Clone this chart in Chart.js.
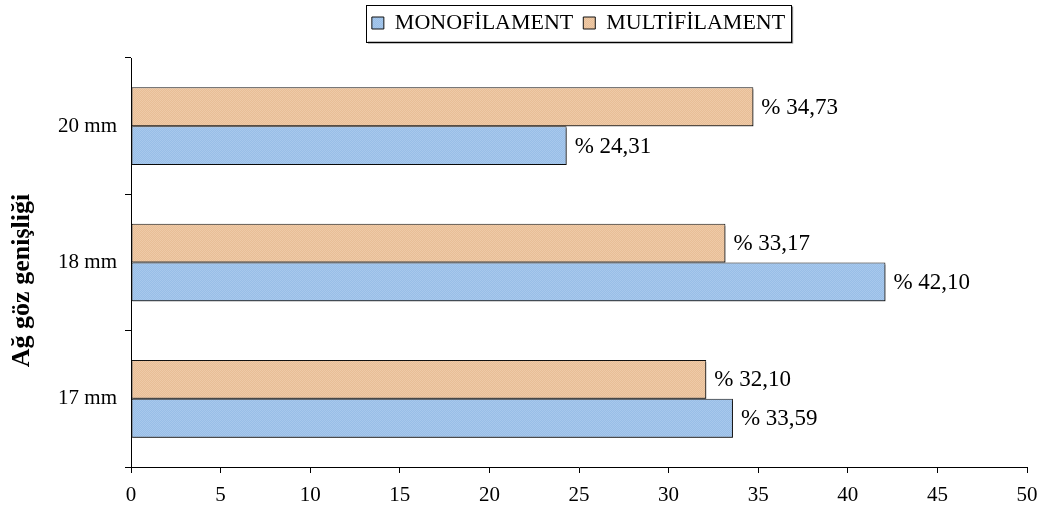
<!DOCTYPE html>
<html>
<head>
<meta charset="utf-8">
<script src="https://cdn.jsdelivr.net/npm/chart.js@4/dist/chart.umd.min.js"></script>
<style>
  html, body { margin: 0; padding: 0; background: #fff; }
  #wrap { width: 1050px; height: 514px; }
</style>
</head>
<body>
<div id="wrap"><canvas id="grafik"></canvas></div>
<script>
const kategoriler = ['20 mm', '18 mm', '17 mm'];
const monofilament = [24.31, 42.10, 33.59];
const multifilament = [34.73, 33.17, 32.10];
const eksenMin = 0;
const eksenMax = 50;
const eksenAdim = 5;

const FONT = "'Liberation Serif', 'Times New Roman', serif";

// little checkered tile, gives the bars their dotted fill
function desen(a, b) {
    const c = document.createElement('canvas');
    c.width = 4; c.height = 4;
    const g = c.getContext('2d');
    g.fillStyle = a; g.fillRect(0, 0, 4, 4);
    g.fillStyle = b;
    g.fillRect(0, 0, 1, 1); g.fillRect(2, 0, 1, 1);
    g.fillRect(1, 1, 1, 1); g.fillRect(3, 1, 1, 1);
    g.fillRect(0, 2, 1, 1); g.fillRect(2, 2, 1, 1);
    g.fillRect(1, 3, 1, 1); g.fillRect(3, 3, 1, 1);
    return g.createPattern(c, 'repeat');
}

const maviDesen = desen('rgb(152,190,231)', 'rgb(168,200,236)');
const tenDesen = desen('rgb(232,190,150)', 'rgb(238,202,168)');

const cerceveLegend = {
    id: 'cerceveLegend',
    beforeInit(chart) {
        const legend = chart.legend;
        if (!legend) return;
        const fit = legend.fit;
        legend.fit = function () { fit.call(this); this.height = 58; };
    },
    afterLayout(chart) {
        const l = chart.legend;
        l.left += 65; l.right += 65; l.top += 2; l.bottom += 2;
    },
    afterDraw(chart) {
        const l = chart.legend;
        const ctx = chart.ctx;
        const pad = l.options.labels.padding;
        const lw = l.lineWidths[0];
        const x0 = (l.left + pad + l.right - lw) / 2 - 6;
        const x1 = x0 + lw - pad + 12;
        const cy = l.top + pad + 11;
        const y0 = cy - 18.5, y1 = cy + 18.5;
        ctx.save();
        ctx.strokeStyle = '#808080';
        ctx.lineWidth = 2;
        ctx.beginPath();
        ctx.moveTo(x0 + 2, y1 + 1); ctx.lineTo(x1 + 1, y1 + 1); ctx.lineTo(x1 + 1, y0 + 2);
        ctx.stroke();
        ctx.strokeStyle = '#000';
        ctx.lineWidth = 1;
        ctx.strokeRect(Math.round(x0) + 0.5, Math.round(y0) + 0.5, Math.round(x1 - x0), Math.round(y1 - y0));
        // y axis title
        const ca = chart.chartArea;
        ctx.translate(22, (ca.top + ca.bottom) / 2 + 18);
        ctx.rotate(-Math.PI / 2);
        ctx.font = 'bold 26px ' + FONT;
        ctx.fillStyle = '#000';
        ctx.textAlign = 'center';
        ctx.textBaseline = 'middle';
        ctx.fillText('Ağ göz genişliği', 0, 0);
        ctx.restore();
    }
};

const golge = {
    id: 'golge',
    beforeDatasetsDraw(chart) {
        const ctx = chart.ctx;
        ctx.save();
        ctx.shadowColor = 'rgba(0,0,0,0.5)';
        ctx.shadowOffsetX = 1;
        ctx.shadowOffsetY = 2;
        ctx.shadowBlur = 0;
    },
    afterDatasetsDraw(chart) {
        const ctx = chart.ctx;
        ctx.restore();
        ctx.save();
        ctx.font = '23px ' + FONT;
        ctx.fillStyle = '#000';
        ctx.textAlign = 'left';
        ctx.textBaseline = 'middle';
        chart.data.datasets.forEach((ds, i) => {
            chart.getDatasetMeta(i).data.forEach((bar, j) => {
                const v = ds.data[j].toFixed(2).replace('.', ',');
                ctx.fillText('% ' + v, bar.x + 8, bar.y + 1);
            });
        });
        ctx.restore();
    }
};

new Chart(document.getElementById('grafik'), {
    type: 'bar',
    data: {
        labels: kategoriler,
        datasets: [{
            label: 'MULTİFİLAMENT',
            data: multifilament,
            backgroundColor: tenDesen,
            borderColor: '#111',
            borderWidth: 1,
            borderSkipped: false,
            categoryPercentage: 0.57,
            barPercentage: 1
        }, {
            label: 'MONOFİLAMENT',
            data: monofilament,
            backgroundColor: maviDesen,
            borderColor: '#111',
            borderWidth: 1,
            borderSkipped: false,
            categoryPercentage: 0.57,
            barPercentage: 1
        }]
    },
    options: {
        indexAxis: 'y',
        responsive: true,
        maintainAspectRatio: false,
        animation: false,
        layout: { padding: { left: 0, right: 23, top: 0, bottom: 0 } },
        scales: {
            x: {
                min: eksenMin,
                max: eksenMax,
                ticks: { stepSize: eksenAdim, color: '#000', padding: 10, font: { family: FONT, size: 21 } },
                grid: { drawOnChartArea: false, color: '#000', tickLength: 6 },
                border: { color: '#000', width: 1 },
                afterFit(scale) { scale.height = 47; }
            },
            y: {
                ticks: { color: '#000', padding: 8, font: { family: FONT, size: 21 } },
                grid: { drawOnChartArea: false, color: '#000', tickLength: 6, offset: true },
                border: { color: '#000', width: 1 },
                afterFit(scale) { scale.width = 131; }
            }
        },
        plugins: {
            legend: {
                display: true,
                position: 'top',
                reverse: true,
                labels: {
                    color: '#000',
                    boxWidth: 12,
                    boxHeight: 12,
                    padding: 10,
                    font: { family: FONT, size: 22 }
                }
            },
            tooltip: { enabled: false }
        }
    },
    plugins: [cerceveLegend, golge]
});
</script>
</body>
</html>
